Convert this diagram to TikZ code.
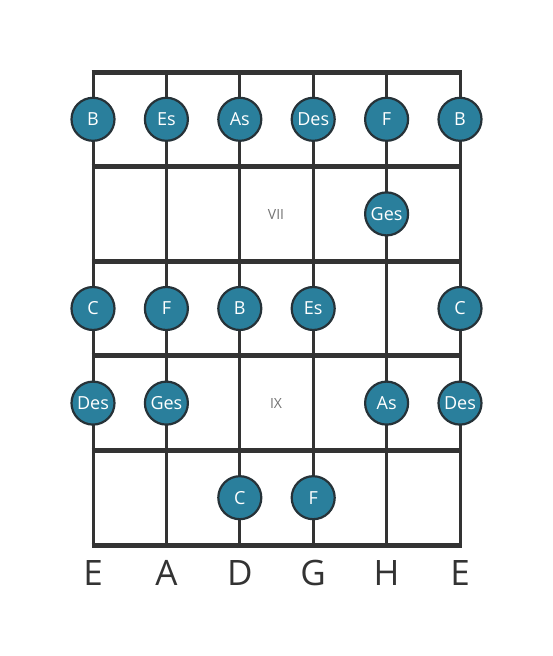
\documentclass[tikz,border=0pt]{standalone}
\usepackage{fontspec}
\setmainfont{Open Sans}
\definecolor{ink}{HTML}{333333}
\definecolor{teal}{HTML}{2A7F9C}
\definecolor{rim}{HTML}{263238}
\begin{document}
\begin{tikzpicture}[x=1pt,y=-1pt,
  fret/.style={draw=ink,line width=5pt},
  string/.style={draw=ink,line width=3pt},
  note/.style={circle,fill=teal,draw=rim,line width=2.2pt,minimum size=43pt,inner sep=0pt,text=white,font=\fontsize{18}{18}\selectfont},
  sname/.style={text=ink,font=\fontsize{35}{35}\selectfont},
  fnum/.style={text=black!55,font=\fontsize{14}{14}\selectfont}]
\useasboundingbox (0,0) rectangle (553,656);
\def\sx{{93,166.4,239.8,313.2,386.6,460}}
% strings
\foreach \i in {0,...,5} {
  \pgfmathsetmacro\xx{\sx[\i]}
  \coordinate (s\i t) at (\xx,72);
  \coordinate (s\i b) at (\xx,545);
  \draw[string] (s\i t) -- (s\i b);
}
% frets
\foreach \j in {0,...,5} {
  \pgfmathsetmacro\yy{72+94.6*\j}
  \coordinate (f\j l) at (91.5,\yy);
  \coordinate (f\j r) at (461.5,\yy);
  \draw[fret] (f\j l) -- (f\j r);
}
\node[fnum] (vii) at (276,214) {VII};
\node[fnum] (ix) at (276,403) {IX};
% notes
\node[note] (n11) at (93,119.3) {B};
\node[note] (n12) at (166.4,119.3) {Es};
\node[note] (n13) at (239.8,119.3) {As};
\node[note] (n14) at (313.2,119.3) {Des};
\node[note] (n15) at (386.6,119.3) {F};
\node[note] (n16) at (460,119.3) {B};
\node[note] (n25) at (386.6,213.9) {Ges};
\node[note] (n31) at (93,308.5) {C};
\node[note] (n32) at (166.4,308.5) {F};
\node[note] (n33) at (239.8,308.5) {B};
\node[note] (n34) at (313.2,308.5) {Es};
\node[note] (n36) at (460,308.5) {C};
\node[note] (n41) at (93,403.1) {Des};
\node[note] (n42) at (166.4,403.1) {Ges};
\node[note] (n45) at (386.6,403.1) {As};
\node[note] (n46) at (460,403.1) {Des};
\node[note] (n53) at (239.8,497.7) {C};
\node[note] (n54) at (313.2,497.7) {F};
% string names
\node[sname] (l1) at (93,573) {E};
\node[sname] (l2) at (166.4,573) {A};
\node[sname] (l3) at (239.8,573) {D};
\node[sname] (l4) at (313.2,573) {G};
\node[sname] (l5) at (386.6,573) {H};
\node[sname] (l6) at (460,573) {E};
\end{tikzpicture}
\end{document}
